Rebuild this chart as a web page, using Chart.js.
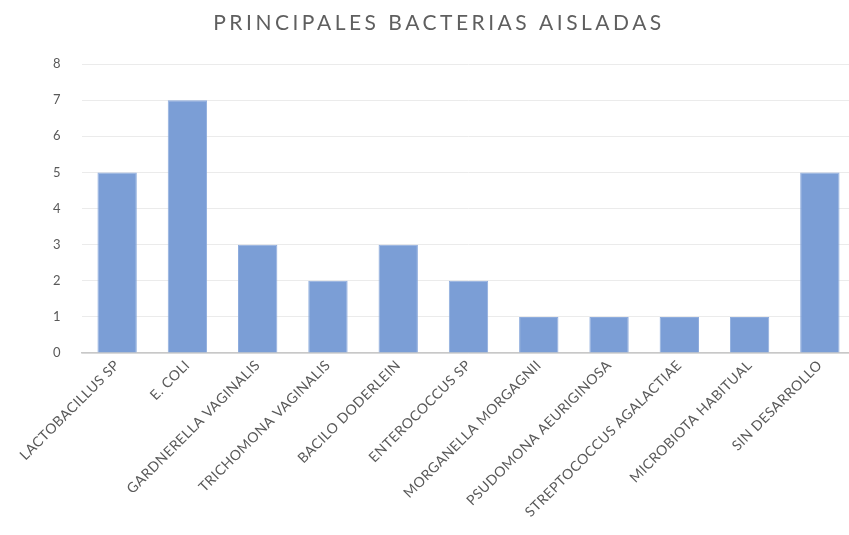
<!DOCTYPE html>
<html>
<head>
<meta charset="utf-8">
<script src="https://cdn.jsdelivr.net/npm/chart.js@4/dist/chart.umd.min.js"></script>
<style>
  html, body { margin: 0; padding: 0; background: #ffffff; overflow: hidden; }
  #frame { width: 849px; height: 535px; overflow: hidden; position: relative; }
  #wrap { width: 855px; height: 535px; position: relative; }
</style>
</head>
<body>
<div id="frame"><div id="wrap"><canvas id="chart"></canvas></div></div>
<script>
// Bacterias aisladas y número de casos
const categories = [
  'LACTOBACILLUS SP',
  'E. COLI',
  'GARDNERELLA VAGINALIS',
  'TRICHOMONA VAGINALIS',
  'BACILO DODERLEIN',
  'ENTEROCOCCUS SP',
  'MORGANELLA MORGAGNII',
  'PSUDOMONA AEURIGINOSA',
  'STREPTOCOCCUS AGALACTIAE',
  'MICROBIOTA HABITUAL',
  'SIN DESARROLLO'
];
const casos = [5, 7, 3, 2, 3, 2, 1, 1, 1, 1, 5];
const yTicks = [0, 1, 2, 3, 4, 5, 6, 7, 8];
const chartTitle = 'PRINCIPALES BACTERIAS AISLADAS';

const FONT = 'Lato, "Open Sans", sans-serif';
const TEXT = '#595959';

// Title drawn with wider letter spacing, and a little tracking on axis text
const spacedText = {
  id: 'spacedText',
  beforeDraw(chart) {
    chart.ctx.letterSpacing = '0.4px';
  },
  afterDraw(chart) {
    const ctx = chart.ctx;
    ctx.save();
    ctx.letterSpacing = '3.5px';
    ctx.fillStyle = '#5f5f5f';
    ctx.font = '400 21px ' + FONT;
    ctx.textAlign = 'center';
    ctx.textBaseline = 'middle';
    ctx.fillText(chartTitle, 439, 23);
    ctx.restore();
    ctx.letterSpacing = '0px';
  }
};

new Chart(document.getElementById('chart'), {
  type: 'bar',
  data: {
    labels: categories,
    datasets: [{
      data: casos,
      backgroundColor: '#7b9ed6',
      borderColor: '#8eacdd',
      borderWidth: 1,
      categoryPercentage: 1.0,
      barPercentage: 0.56
    }]
  },
  options: {
    responsive: true,
    maintainAspectRatio: false,
    animation: false,
    layout: { padding: { left: 0, right: 0, top: 64, bottom: 0 } },
    plugins: {
      legend: { display: false },
      tooltip: { enabled: false },
      title: { display: false }
    },
    scales: {
      x: {
        grid: { display: false, drawTicks: false },
        border: { display: true, color: '#c8c8c8', width: 1.5 },
        afterFit(axis) {
          axis.height = 535 - 353;
          axis.paddingLeft = 0;
          axis.paddingRight = 0;
        },
        ticks: {
          color: TEXT,
          font: { family: FONT, size: 14 },
          minRotation: 45,
          maxRotation: 45,
          autoSkip: false,
          padding: 4
        }
      },
      y: {
        min: 0,
        max: 8,
        afterBuildTicks: (axis) => { axis.ticks = yTicks.map(v => ({ value: v })); },
        afterFit(axis) {
          axis.width = 82;
          axis.paddingTop = 0;
          axis.paddingBottom = 0;
        },
        grid: { color: '#ebebeb', lineWidth: 1, drawTicks: false },
        border: { display: false },
        ticks: {
          color: TEXT,
          font: { family: FONT, size: 13 },
          padding: 21
        }
      }
    }
  },
  plugins: [spacedText]
});
</script>
</body>
</html>
